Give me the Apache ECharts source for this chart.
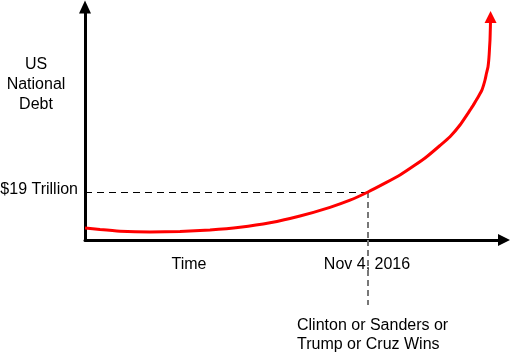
<!DOCTYPE html>
<html>
<head>
<meta charset="utf-8">
<script src="https://cdn.jsdelivr.net/npm/echarts@6/dist/echarts.min.js"></script>
<style>html,body{margin:0;padding:0;background:#fff}#c{width:512px;height:356px}</style>
</head>
<body>
<div id="c"></div>
<script>
// Debt curve (time index 0..100, debt index 0..100)
const timeValues = [0, 3.58, 8.35, 15.51, 22.67, 29.83, 36.99, 44.15, 51.31, 58.47, 63.25, 67.54, 71.60, 75.18, 78.76, 81.62, 84.73, 87.11, 89.50, 91.89, 92.60, 93.32, 94.03, 94.75, 95.11, 95.47, 95.82, 96.18, 96.35, 96.47, 96.56, 96.66, 96.75, 96.80];
const debtValues = [5.15, 4.46, 3.78, 3.48, 3.65, 4.29, 5.45, 7.38, 10.30, 14.03, 17.08, 20.60, 24.38, 27.90, 32.15, 35.84, 40.56, 44.34, 49.36, 55.71, 57.68, 59.83, 62.02, 64.46, 66.35, 68.67, 71.55, 74.25, 76.95, 79.83, 82.83, 85.84, 91.42, 95.71];
const electionTime = 67.54;
const debtAtElection = 20.6;
const yLabel = 'US\nNational\nDebt';
const debtLabel = '$19 Trillion';
const timeLabel = 'Time';
const dateLabel = 'Nov 4, 2016';
const eventLabel = 'Clinton or Sanders or\nTrump or Cruz Wins';

const curve = timeValues.map((t, i) => {
  const p = { value: [t, debtValues[i]] };
  if (i === timeValues.length - 1) {
    p.symbol = 'triangle';
    p.symbolSize = [12, 12];
    p.symbolRotate = 0;
  }
  return p;
});

const chart = echarts.init(document.getElementById('c'), null, { renderer: 'canvas' });
const font = { fontFamily: 'Liberation Sans, Arial, sans-serif', fontSize: 16, fill: '#000', verticalAlign: 'middle' };
chart.setOption({
  animation: false,
  grid: [
    { left: 85, right: 8, top: 7, bottom: 116 },
    { left: 85, right: 8, top: 240, height: 65 }
  ],
  xAxis: [
    { gridIndex: 0, type: 'value', min: 0, max: 100,
      axisLine: { show: true, onZero: false, symbol: ['none', 'triangle'], symbolSize: [12, 12], lineStyle: { color: '#000', width: 3 } },
      axisTick: { show: false }, axisLabel: { show: false }, splitLine: { show: false } },
    { gridIndex: 1, type: 'value', min: 0, max: 100, show: false }
  ],
  yAxis: [
    { gridIndex: 0, type: 'value', min: 0, max: 100,
      axisLine: { show: true, onZero: false, symbol: ['none', 'triangle'], symbolSize: [12, 13], lineStyle: { color: '#000', width: 3 } },
      axisTick: { show: false }, axisLabel: { show: false }, splitLine: { show: false } },
    { gridIndex: 1, type: 'value', min: 0, max: 1, show: false }
  ],
  series: [
    {
      type: 'line', xAxisIndex: 0, yAxisIndex: 0, data: curve, smooth: 0.15,
      showSymbol: true, symbol: 'none', clip: false,
      lineStyle: { color: '#ff0000', width: 3 }, itemStyle: { color: '#ff0000' },
      z: 5,
      markLine: {
        silent: true, symbol: 'none', label: { show: false }, animation: false,
        data: [
          [{ coord: [0, debtAtElection], lineStyle: { color: '#000', width: 1, type: [7, 5] } }, { coord: [electionTime, debtAtElection] }],
          [{ coord: [electionTime, debtAtElection], lineStyle: { color: '#777', width: 2, type: [6, 4] } }, { coord: [electionTime, 0] }]
        ]
      }
    },
    {
      type: 'line', xAxisIndex: 1, yAxisIndex: 1, symbol: 'none',
      data: [[electionTime, 1], [electionTime, 0]],
      lineStyle: { color: '#777', width: 2, type: [6, 4] }, z: 1
    }
  ],
  graphic: [
    { type: 'text', x: 36, y: 85, style: Object.assign({ text: yLabel, align: 'center', lineHeight: 20 }, font) },
    { type: 'text', x: 78, y: 190, style: Object.assign({ text: debtLabel, align: 'right' }, font) },
    { type: 'text', x: 189, y: 265, style: Object.assign({ text: timeLabel, align: 'center' }, font) },
    { type: 'text', x: 367, y: 265, style: Object.assign({ text: dateLabel, align: 'center' }, font) },
    { type: 'text', x: 297, y: 335, style: Object.assign({ text: eventLabel, align: 'left', lineHeight: 19 }, font) }
  ]
});
</script>
</body>
</html>
